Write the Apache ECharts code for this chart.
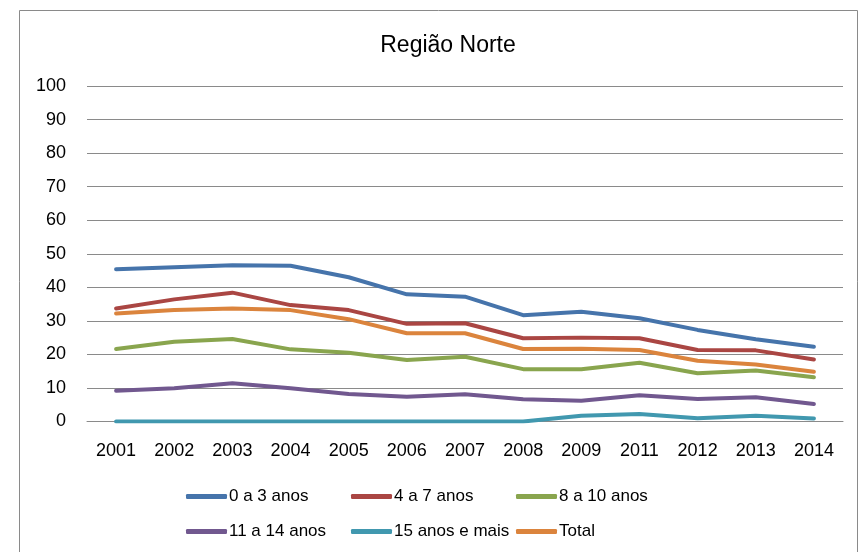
<!DOCTYPE html>
<html>
<head>
<meta charset="utf-8">
<script src="https://cdn.jsdelivr.net/npm/echarts@6/dist/echarts.min.js"></script>
<style>html,body{margin:0;padding:0;background:#fff;}#c{width:859px;height:552px;}</style>
</head>
<body>
<div id="c"></div>
<script>
const titleText = 'Região Norte';
const categories = ['2001','2002','2003','2004','2005','2006','2007','2008','2009','2011','2012','2013','2014'];
const yTicks = {min: 0, max: 100, interval: 10};
const s0a3 = [45.4, 46.0, 46.6, 46.4, 43.0, 37.9, 37.2, 31.7, 32.7, 30.8, 27.3, 24.5, 22.3];
const s4a7 = [33.7, 36.4, 38.4, 34.7, 33.2, 29.1, 29.3, 24.8, 25.0, 24.8, 21.3, 21.2, 18.5];
const s8a10 = [21.6, 23.8, 24.6, 21.5, 20.5, 18.3, 19.3, 15.6, 15.6, 17.5, 14.4, 15.2, 13.2];
const s11a14 = [9.2, 9.9, 11.4, 9.9, 8.2, 7.4, 8.1, 6.6, 6.2, 7.8, 6.7, 7.2, 5.2];
const s15mais = [0, 0, 0, 0, 0, 0, 0, 0, 1.7, 2.2, 1.0, 1.7, 0.9];
const sTotal = [32.2, 33.2, 33.7, 33.2, 30.5, 26.3, 26.3, 21.6, 21.7, 21.3, 18.1, 17.0, 14.8];

const seriesNames = ['0 a 3 anos','4 a 7 anos','8 a 10 anos','11 a 14 anos','15 anos e mais','Total'];
const seriesData = [s0a3, s4a7, s8a10, s11a14, s15mais, sTotal];
const colors = ['#4674AB','#AA4643','#89A54E','#71588F','#4198AF','#DB843D'];

const FONT = 'Liberation Sans';
const legendPos = [
  {left: 186, top: 488}, {left: 351, top: 488}, {left: 516, top: 488},
  {left: 186, top: 523}, {left: 351, top: 523}, {left: 516, top: 523}
];

const chart = echarts.init(document.getElementById('c'), null, {renderer: 'canvas'});
chart.setOption({
  animation: false,
  color: colors,
  title: {
    text: titleText,
    left: 443,
    top: 29,
    textAlign: 'center',
    textStyle: {fontFamily: FONT, fontSize: 23, fontWeight: 'normal', color: '#000'}
  },
  graphic: [{
    type: 'rect',
    shape: {x: 19.5, y: 10.5, width: 838, height: 600},
    style: {fill: 'none', stroke: '#8a8a8a', lineWidth: 1},
    silent: true
  }],
  legend: seriesNames.map((n, i) => ({
    data: [n],
    left: legendPos[i].left,
    top: legendPos[i].top,
    icon: 'roundRect',
    itemWidth: 41,
    itemHeight: 5,
    padding: 0,
    textStyle: {fontFamily: FONT, fontSize: 17, color: '#000', padding: [0, 0, 0, -3]}
  })),
  grid: {left: 87, right: 16, top: 86, bottom: 130.5, containLabel: false},
  xAxis: {
    type: 'category',
    data: categories,
    boundaryGap: true,
    axisTick: {show: false},
    axisLine: {lineStyle: {color: '#8a8a8a', width: 1}},
    axisLabel: {fontFamily: FONT, fontSize: 18, color: '#000', margin: 21}
  },
  yAxis: {
    type: 'value',
    min: yTicks.min, max: yTicks.max, interval: yTicks.interval,
    axisLine: {show: false},
    axisTick: {show: false},
    splitLine: {lineStyle: {color: '#8a8a8a', width: 1}},
    axisLabel: {fontFamily: FONT, fontSize: 18, color: '#000', margin: 21}
  },
  series: seriesNames.map((n, i) => ({
    name: n,
    type: 'line',
    data: seriesData[i],
    symbol: 'none',
    lineStyle: {width: 4, color: colors[i], cap: 'round', join: 'round'},
    itemStyle: {color: colors[i]}
  }))
});
</script>
</body>
</html>
